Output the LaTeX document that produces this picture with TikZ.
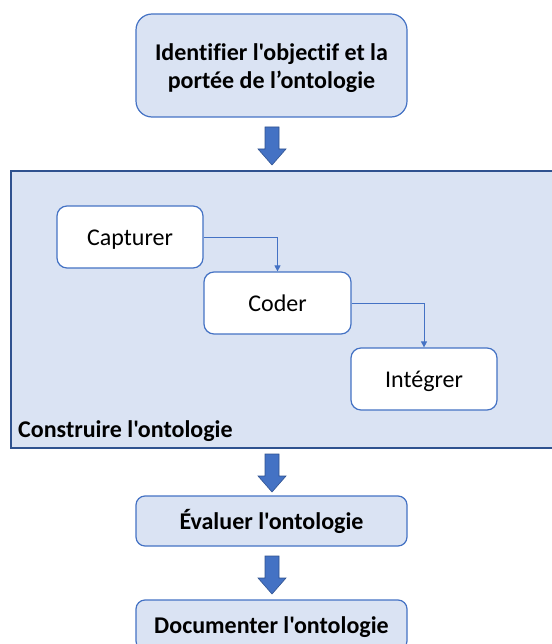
\documentclass[tikz,border=0pt]{standalone}
\usepackage{fontspec}
\setmainfont{Carlito}[Ligatures={TeXOff,CommonOff}]
\usetikzlibrary{arrows.meta}
\definecolor{boxfill}{HTML}{DAE3F3}
\definecolor{boxline}{HTML}{4472C4}
\definecolor{darkline}{HTML}{2F528F}
\tikzset{
  txt/.style={font=\fontsize{24}{28}\selectfont},
  oneline/.style={text height=18pt, text depth=2pt},
  phase/.style={draw=boxline, line width=1.2pt, fill=boxfill, inner sep=0pt, align=center, txt},
  stepbox/.style={draw=boxline, line width=1.2pt, fill=white, rounded corners=10pt, inner sep=0pt, txt, oneline},
  conn/.style={draw=boxline, line width=0.8pt, -{Triangle[width=6pt,length=6pt]}},
  blockarrow/.pic={
    \draw[fill=boxline, draw=darkline, line width=0.6pt]
      (-7,0) -- (7,0) -- (7,-22) -- (14,-22) -- (0,-38) -- (-14,-22) -- (-7,-22) -- cycle;
  }
}
\begin{document}
\begin{tikzpicture}[x=1pt,y=1pt]
\useasboundingbox (0,0) rectangle (551,-644);
% top phase
\node[phase, rounded corners=16pt, minimum width=271pt, minimum height=103pt] (ident) at (271.5,-65.5) {};
\node[txt, align=center, inner sep=0pt] (identlbl) at (271.5,-68)
  {\bfseries Identifier l'objectif et la\\\bfseries portée de l’ontologie};
\pic at (272,-127) {blockarrow};
% build container
\node[draw=darkline, line width=1.2pt, fill=boxfill, minimum width=542pt, minimum height=277pt, inner sep=0pt] (build) at (282,-309.5) {};
\node[txt, font=\fontsize{24}{28}\selectfont\bfseries, anchor=base west, inner sep=0pt] (buildlbl) at (18,-437) {Construire l'ontologie};
\node[stepbox, minimum width=146pt, minimum height=62pt] (cap) at (130,-237) {Capturer};
\node[stepbox, minimum width=147pt, minimum height=62pt] (cod) at (277.5,-303) {Coder};
\node[stepbox, minimum width=146pt, minimum height=62pt] (int) at (424,-379) {Intégrer};
\draw[conn] (cap.east) -| (cod.north);
\draw[conn] (cod.east) -| (int.north);
\pic at (272,-454) {blockarrow};
\node[phase, oneline, rounded corners=9pt, minimum width=271pt, minimum height=50pt] (eval) at (271.5,-521) {\bfseries Évaluer l'ontologie};
\pic at (272,-556) {blockarrow};
\node[phase, oneline, rounded corners=9pt, minimum width=271pt, minimum height=50pt] (doc) at (271.5,-625) {\bfseries Documenter l'ontologie};
\end{tikzpicture}
\end{document}
